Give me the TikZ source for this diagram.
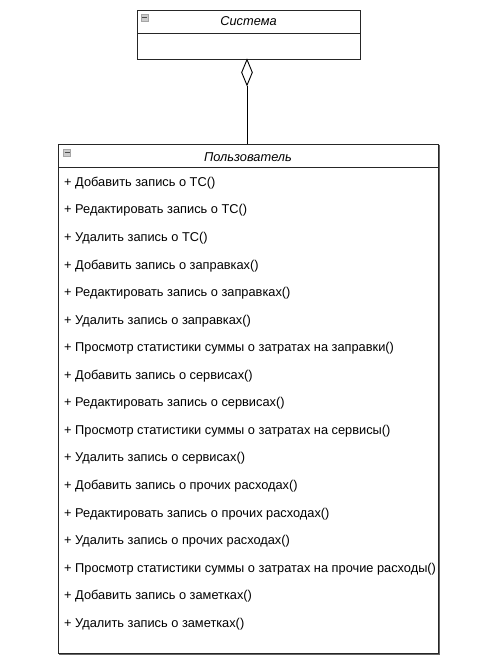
\documentclass[tikz,border=0pt]{standalone}
\usepackage{fontspec}
\setmainfont{Liberation Sans}
\usetikzlibrary{shapes.geometric}
\tikzset{
  box/.style={draw=black!85, line width=1pt, fill=white},
  shadowline/.style={draw=black!60, line width=1.4pt},
  sep/.style={draw=black!85, line width=0.9pt},
  icon/.style={draw=black!35, fill=black!20, line width=0.4pt, minimum size=7pt, inner sep=0pt},
  title/.style={font=\fontsize{12.8}{14}\selectfont\itshape, inner sep=0pt},
  op/.style={font=\fontsize{12.8}{14}\selectfont, anchor=west, inner sep=0pt},
  agg/.style={diamond, draw=black, fill=white, line width=0.9pt, minimum width=11pt, minimum height=26pt, inner sep=0pt, aspect=0.4},
}
\begin{document}
\begin{tikzpicture}[x=1pt,y=-1pt]
\useasboundingbox (0,0) rectangle (491,666);
% Sistema class
\node[box, minimum width=223pt, minimum height=49pt, anchor=north west, inner sep=0pt] (sys) at (137,10) {};
\draw[sep] (137,33) -- (360,33);
\node[icon] (sysicon) at (144.5,17.5) {};
\draw[black!70, line width=1pt] (142,17.5) -- (147,17.5);
\node[title] (systitle) at (248.5,21.5) {Система};
% User class
\draw[shadowline] (439,145) -- (439,654) -- (59,654);
\node[box, minimum width=380pt, minimum height=509pt, anchor=north west, inner sep=0pt] (usr) at (58,144) {};
\draw[sep] (58,167.5) -- (438,167.5);
\node[icon] (usricon) at (67,152.5) {};
\draw[black!70, line width=1pt] (64.5,152.5) -- (69.5,152.5);
\node[title] (usrtitle) at (248,157) {Пользователь};
% operations
\foreach \i/\t in {0/{+ Добавить запись о ТС()},
  1/{+ Редактировать запись о ТС()},
  2/{+ Удалить запись о ТС()},
  3/{+ Добавить запись о заправках()},
  4/{+ Редактировать запись о заправках()},
  5/{+ Удалить запись о заправках()},
  6/{+ Просмотр статистики суммы о затратах на заправки()},
  7/{+ Добавить запись о сервисах()},
  8/{+ Редактировать запись о сервисах()},
  9/{+ Просмотр статистики суммы о затратах на сервисы()},
  10/{+ Удалить запись о сервисах()},
  11/{+ Добавить запись о прочих расходах()},
  12/{+ Редактировать запись о прочих расходах()},
  13/{+ Удалить запись о прочих расходах()},
  14/{+ Просмотр статистики суммы о затратах на прочие расходы()},
  15/{+ Добавить запись о заметках()},
  16/{+ Удалить запись о заметках()}}
  \node[op] (op\i) at (64,{183+27.56*\i}) {\t};
% aggregation
\node[agg, anchor=north] (dia) at (247,59) {};
\draw[line width=0.9pt] (dia.south) -- (dia.south |- usr.north);
\end{tikzpicture}
\end{document}
